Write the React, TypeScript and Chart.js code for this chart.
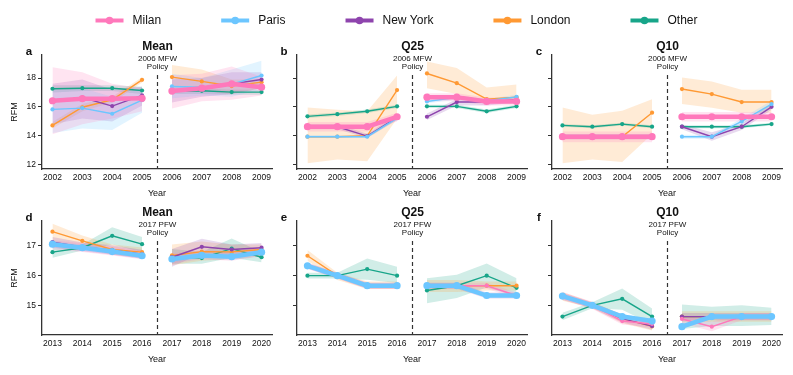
import React, { useEffect, useRef } from "react";
import { Chart, registerables } from "chart.js";

Chart.register(...registerables);

// ---------------- data ----------------
const CITIES = ["Milan", "Paris", "New York", "London", "Other"];
const YEARS_TOP = [2002, 2003, 2004, 2005, 2006, 2007, 2008, 2009];
const YEARS_BOTTOM = [2013, 2014, 2015, 2016, 2017, 2018, 2019, 2020];
const Y_TICKS_TOP = [12, 14, 16, 18];
const Y_TICKS_BOTTOM = [15, 16, 17];
const POLICY_TOP = ["2006 MFW", "Policy"];
const POLICY_BOTTOM = ["2017 PFW", "Policy"];

// Panel a — Mean (2002–2009)
const A_MILAN = [16.43, 16.57, 16.57, 16.6, 17.1, 17.3, 17.6, 17.37];
const A_MILAN_LO = [14.1, 14.8, 15.2, 15.7, 15.9, 16.4, 16.5, 16.8];
const A_MILAN_HI = [18.75, 18.4, 17.6, 17.3, 18.2, 18.3, 18.8, 18.1];
const A_PARIS = [15.83, 15.92, 15.53, 16.47, 17.42, 17.37, 17.58, 18.18];
const A_PARIS_LO = [14.2, 14.5, 14.4, 15.6, 16.6, 16.8, 16.7, 17.2];
const A_PARIS_HI = [17.3, 17.3, 16.7, 17.3, 18.3, 18.0, 18.6, 19.2];
const A_NY = [16.4, 16.65, 16.06, 16.8, 17.12, 17.3, 17.6, 17.9];
const A_NY_LO = [14.8, 15.2, 15.0, 16.1, 16.3, 16.7, 16.9, 17.3];
const A_NY_HI = [17.6, 17.9, 17.2, 17.4, 17.9, 18.0, 18.4, 18.4];
const A_LONDON = [14.72, 15.98, 16.5, 17.88, 18.07, 17.77, 17.45, 17.72];
const A_LONDON_LO = [14.5, 15.7, 16.3, 17.7, 17.2, 17.1, 16.9, 17.3];
const A_LONDON_HI = [14.95, 16.2, 16.7, 18.05, 18.9, 18.6, 17.9, 17.9];
const A_OTHER = [17.26, 17.3, 17.3, 17.14, 17.1, 17.12, 17.03, 17.03];
const A_OTHER_LO = [17.0, 17.1, 17.1, 16.9, 16.9, 16.9, 16.85, 16.85];
const A_OTHER_HI = [17.5, 17.5, 17.5, 17.4, 17.3, 17.3, 17.2, 17.2];

// Panel b — Q25 (2002–2009)
const B_MILAN = [14.63, 14.63, 14.63, 15.32, 16.68, 16.68, 16.38, 16.38];
const B_MILAN_LO = [14.3, 14.3, 14.3, 15.0, 16.4, 16.4, 16.1, 16.1];
const B_MILAN_HI = [14.95, 14.95, 14.95, 15.6, 16.95, 16.95, 16.65, 16.65];
const B_PARIS = [13.94, 13.94, 13.94, 15.23, 16.38, 16.66, 16.43, 16.7];
const B_PARIS_LO = [13.85, 13.85, 13.85, 15.1, 16.25, 16.5, 16.3, 16.55];
const B_PARIS_HI = [14.05, 14.05, 14.05, 15.35, 16.5, 16.8, 16.55, 16.85];
const B_NY = [14.63, 14.63, 13.98, 15.28, 15.32, 16.34, 16.34, 16.5];
const B_NY_LO = [14.45, 14.45, 13.85, 15.1, 15.1, 16.1, 16.1, 16.3];
const B_NY_HI = [14.8, 14.8, 14.15, 15.45, 15.55, 16.55, 16.55, 16.7];
const B_LONDON = [13.94, 13.94, 14.0, 17.17, 18.32, 17.65, 16.54, 16.68];
const B_LONDON_LO = [12.1, 12.35, 12.23, 15.2, 17.3, 16.9, 16.3, 16.4];
const B_LONDON_HI = [15.97, 15.8, 15.7, 18.18, 19.15, 18.7, 17.35, 17.55];
const B_OTHER = [15.35, 15.5, 15.7, 16.04, 16.04, 16.04, 15.7, 16.04];
const B_OTHER_LO = [15.23, 15.38, 15.58, 15.92, 15.92, 15.92, 15.58, 15.92];
const B_OTHER_HI = [15.47, 15.62, 15.82, 16.16, 16.16, 16.16, 15.82, 16.16];

// Panel c — Q10 (2002–2009)
const C_MILAN = [13.94, 13.94, 13.94, 13.94, 15.32, 15.32, 15.32, 15.32];
const C_MILAN_LO = [13.55, 13.55, 13.55, 13.55, 15.0, 15.0, 15.0, 15.0];
const C_MILAN_HI = [14.3, 14.3, 14.3, 14.3, 15.65, 15.65, 15.65, 15.65];
const C_PARIS = [13.94, 13.94, 13.94, 13.94, 13.94, 13.94, 15.0, 16.2];
const C_PARIS_LO = [13.8, 13.8, 13.8, 13.8, 13.8, 13.8, 14.8, 15.9];
const C_PARIS_HI = [14.08, 14.08, 14.08, 14.08, 14.08, 14.08, 15.2, 16.45];
const C_NY = [13.94, 13.94, 13.94, 13.94, 14.63, 13.94, 14.63, 16.01];
const C_NY_LO = [13.75, 13.75, 13.75, 13.75, 14.45, 13.65, 14.4, 15.8];
const C_NY_HI = [14.12, 14.12, 14.12, 14.12, 14.8, 14.25, 14.85, 16.2];
const C_LONDON = [13.94, 13.94, 13.94, 15.6, 17.24, 16.89, 16.34, 16.34];
const C_LONDON_LO = [12.1, 12.35, 12.18, 14.1, 16.2, 15.95, 15.6, 15.6];
const C_LONDON_HI = [15.97, 15.46, 15.74, 16.54, 18.04, 17.77, 17.2, 17.2];
const C_OTHER = [14.72, 14.63, 14.81, 14.63, 14.63, 14.63, 14.63, 14.81];
const C_OTHER_LO = [14.62, 14.53, 14.71, 14.53, 14.53, 14.53, 14.53, 14.71];
const C_OTHER_HI = [14.82, 14.73, 14.91, 14.73, 14.73, 14.73, 14.73, 14.91];

// Panel d — Mean (2013–2020)
const D_MILAN = [17.03, 16.95, 16.83, 16.7, 16.58, 16.7, 16.66, 16.8];
const D_MILAN_LO = [16.88, 16.8, 16.68, 16.55, 16.4, 16.55, 16.5, 16.65];
const D_MILAN_HI = [17.18, 17.1, 16.98, 16.85, 16.75, 16.85, 16.82, 16.95];
const D_PARIS = [17.06, 16.94, 16.81, 16.67, 16.56, 16.68, 16.64, 16.79];
const D_PARIS_LO = [16.94, 16.84, 16.71, 16.57, 16.44, 16.56, 16.52, 16.67];
const D_PARIS_HI = [17.18, 17.04, 16.91, 16.77, 16.68, 16.8, 16.76, 16.91];
const D_NY = [17.13, 16.97, 16.86, 16.72, 16.62, 16.97, 16.88, 16.94];
const D_NY_LO = [16.95, 16.82, 16.7, 16.57, 16.3, 16.75, 16.7, 16.8];
const D_NY_HI = [17.3, 17.12, 17.02, 16.87, 16.9, 17.24, 17.05, 17.1];
const D_LONDON = [17.48, 17.17, 16.88, 16.79, 16.68, 16.81, 16.8, 16.88];
const D_LONDON_LO = [17.05, 16.95, 16.7, 16.6, 16.35, 16.5, 16.55, 16.65];
const D_LONDON_HI = [17.75, 17.35, 17.05, 16.95, 17.05, 17.15, 17.05, 17.05];
const D_OTHER = [16.79, 16.94, 17.34, 17.06, 16.64, 16.59, 16.91, 16.62];
const D_OTHER_LO = [16.6, 16.85, 17.05, 16.8, 16.4, 16.4, 16.6, 16.45];
const D_OTHER_HI = [16.95, 17.05, 17.63, 17.3, 16.9, 16.8, 17.25, 16.8];

// Panel e — Q25 (2013–2020)
const E_MILAN = [16.33, 16.0, 15.66, 15.66, 15.66, 15.66, 15.66, 15.33];
const E_MILAN_LO = [16.23, 15.9, 15.56, 15.56, 15.56, 15.56, 15.56, 15.23];
const E_MILAN_HI = [16.43, 16.1, 15.76, 15.76, 15.76, 15.76, 15.76, 15.43];
const E_PARIS = [16.33, 16.0, 15.66, 15.66, 15.66, 15.66, 15.33, 15.33];
const E_PARIS_LO = [16.26, 15.93, 15.59, 15.59, 15.59, 15.59, 15.26, 15.26];
const E_PARIS_HI = [16.4, 16.07, 15.73, 15.73, 15.73, 15.73, 15.4, 15.4];
const E_NY = [16.33, 16.0, 15.66, 15.66, 15.66, 15.66, 15.33, 15.33];
const E_NY_LO = [16.23, 15.9, 15.56, 15.56, 15.56, 15.56, 15.23, 15.23];
const E_NY_HI = [16.43, 16.1, 15.76, 15.76, 15.76, 15.76, 15.43, 15.43];
const E_LONDON = [16.67, 16.0, 15.66, 15.66, 15.66, 15.66, 15.66, 15.66];
const E_LONDON_LO = [16.5, 15.85, 15.55, 15.55, 15.45, 15.45, 15.5, 15.5];
const E_LONDON_HI = [16.86, 16.1, 15.8, 15.8, 15.85, 15.85, 15.8, 15.8];
const E_OTHER = [16.0, 16.0, 16.22, 16.0, 15.5, 15.66, 16.0, 15.59];
const E_OTHER_LO = [15.9, 15.9, 15.86, 15.75, 15.07, 15.25, 15.6, 15.3];
const E_OTHER_HI = [16.1, 16.1, 16.58, 16.3, 15.91, 16.03, 16.41, 15.91];

// Panel f — Q10 (2013–2020)
const F_MILAN = [15.33, 15.0, 14.47, 14.37, 14.54, 14.28, 14.62, 14.62];
const F_MILAN_LO = [15.2, 14.88, 14.35, 14.25, 14.4, 14.13, 14.5, 14.5];
const F_MILAN_HI = [15.45, 15.12, 14.6, 14.5, 14.68, 14.45, 14.74, 14.74];
const F_PARIS = [15.31, 15.0, 14.62, 14.47, 14.28, 14.62, 14.62, 14.62];
const F_PARIS_LO = [15.22, 14.92, 14.54, 14.39, 14.2, 14.54, 14.54, 14.54];
const F_PARIS_HI = [15.4, 15.08, 14.7, 14.55, 14.36, 14.7, 14.7, 14.7];
const F_NY = [15.3, 15.0, 14.55, 14.3, 14.62, 14.62, 14.62, 14.62];
const F_NY_LO = [15.18, 14.9, 14.42, 14.18, 14.5, 14.5, 14.5, 14.5];
const F_NY_HI = [15.42, 15.1, 14.68, 14.42, 14.74, 14.74, 14.74, 14.74];
const F_LONDON = [15.33, 15.0, 14.55, 14.29, 14.62, 14.62, 14.62, 14.62];
const F_LONDON_LO = [15.15, 14.9, 14.4, 14.15, 14.45, 14.45, 14.45, 14.45];
const F_LONDON_HI = [15.45, 15.1, 14.7, 14.4, 14.8, 14.8, 14.8, 14.8];
const F_OTHER = [14.62, 15.0, 15.22, 14.62, 14.62, 14.62, 14.62, 14.62];
const F_OTHER_LO = [14.5, 14.9, 14.85, 14.35, 14.2, 14.3, 14.3, 14.34];
const F_OTHER_HI = [14.75, 15.1, 15.57, 14.89, 15.03, 14.95, 15.0, 14.92];

// ---------------- styles ----------------
const COLORS = ["#ff78bb", "#6cc6ff", "#8e44ad", "#ff9933", "#17a589"];
const BAND_ALPHA = 0.2;
const FONT = "'Liberation Sans', Arial, Helvetica, sans-serif";
const AXIS_COLOR = "#333333";
const TEXT_COLOR = "#111111";

type Series = { mean: number[]; lo: number[]; hi: number[] };
type PanelCfg = {
  letter: string;
  title: string;
  policy: string[];
  years: number[];
  yMin: number;
  yMax: number;
  yTicks: number[];
  col: number;
  row: number;
  thick: number;
  drawOrder: number[];
  series: Series[];
};

const COL_LEFT = [42, 297, 552];
const PLOT_W = 230;
const ROW_TOP = [55, 221];
const ROW_BOTTOM = [169, 335];
const Y_AXIS_W = 42;
const X_AXIS_H = 30;

const TOP_ORDER = [1, 2, 3, 4, 5];
const BOTTOM_ORDER = [2, 1, 3, 4, 5];

const PANELS: PanelCfg[] = [
  {
    letter: "a", title: "Mean", policy: POLICY_TOP, years: YEARS_TOP, yMin: 11.7, yMax: 19.6, yTicks: Y_TICKS_TOP,
    col: 0, row: 0, thick: 0, drawOrder: TOP_ORDER,
    series: [
      { mean: A_MILAN, lo: A_MILAN_LO, hi: A_MILAN_HI },
      { mean: A_PARIS, lo: A_PARIS_LO, hi: A_PARIS_HI },
      { mean: A_NY, lo: A_NY_LO, hi: A_NY_HI },
      { mean: A_LONDON, lo: A_LONDON_LO, hi: A_LONDON_HI },
      { mean: A_OTHER, lo: A_OTHER_LO, hi: A_OTHER_HI },
    ],
  },
  {
    letter: "b", title: "Q25", policy: POLICY_TOP, years: YEARS_TOP, yMin: 11.7, yMax: 19.6, yTicks: Y_TICKS_TOP,
    col: 1, row: 0, thick: 0, drawOrder: TOP_ORDER,
    series: [
      { mean: B_MILAN, lo: B_MILAN_LO, hi: B_MILAN_HI },
      { mean: B_PARIS, lo: B_PARIS_LO, hi: B_PARIS_HI },
      { mean: B_NY, lo: B_NY_LO, hi: B_NY_HI },
      { mean: B_LONDON, lo: B_LONDON_LO, hi: B_LONDON_HI },
      { mean: B_OTHER, lo: B_OTHER_LO, hi: B_OTHER_HI },
    ],
  },
  {
    letter: "c", title: "Q10", policy: POLICY_TOP, years: YEARS_TOP, yMin: 11.7, yMax: 19.6, yTicks: Y_TICKS_TOP,
    col: 2, row: 0, thick: 0, drawOrder: TOP_ORDER,
    series: [
      { mean: C_MILAN, lo: C_MILAN_LO, hi: C_MILAN_HI },
      { mean: C_PARIS, lo: C_PARIS_LO, hi: C_PARIS_HI },
      { mean: C_NY, lo: C_NY_LO, hi: C_NY_HI },
      { mean: C_LONDON, lo: C_LONDON_LO, hi: C_LONDON_HI },
      { mean: C_OTHER, lo: C_OTHER_LO, hi: C_OTHER_HI },
    ],
  },
  {
    letter: "d", title: "Mean", policy: POLICY_BOTTOM, years: YEARS_BOTTOM, yMin: 14.0, yMax: 17.84, yTicks: Y_TICKS_BOTTOM,
    col: 0, row: 1, thick: 1, drawOrder: BOTTOM_ORDER,
    series: [
      { mean: D_MILAN, lo: D_MILAN_LO, hi: D_MILAN_HI },
      { mean: D_PARIS, lo: D_PARIS_LO, hi: D_PARIS_HI },
      { mean: D_NY, lo: D_NY_LO, hi: D_NY_HI },
      { mean: D_LONDON, lo: D_LONDON_LO, hi: D_LONDON_HI },
      { mean: D_OTHER, lo: D_OTHER_LO, hi: D_OTHER_HI },
    ],
  },
  {
    letter: "e", title: "Q25", policy: POLICY_BOTTOM, years: YEARS_BOTTOM, yMin: 14.0, yMax: 17.84, yTicks: Y_TICKS_BOTTOM,
    col: 1, row: 1, thick: 1, drawOrder: BOTTOM_ORDER,
    series: [
      { mean: E_MILAN, lo: E_MILAN_LO, hi: E_MILAN_HI },
      { mean: E_PARIS, lo: E_PARIS_LO, hi: E_PARIS_HI },
      { mean: E_NY, lo: E_NY_LO, hi: E_NY_HI },
      { mean: E_LONDON, lo: E_LONDON_LO, hi: E_LONDON_HI },
      { mean: E_OTHER, lo: E_OTHER_LO, hi: E_OTHER_HI },
    ],
  },
  {
    letter: "f", title: "Q10", policy: POLICY_BOTTOM, years: YEARS_BOTTOM, yMin: 14.0, yMax: 17.84, yTicks: Y_TICKS_BOTTOM,
    col: 2, row: 1, thick: 1, drawOrder: BOTTOM_ORDER,
    series: [
      { mean: F_MILAN, lo: F_MILAN_LO, hi: F_MILAN_HI },
      { mean: F_PARIS, lo: F_PARIS_LO, hi: F_PARIS_HI },
      { mean: F_NY, lo: F_NY_LO, hi: F_NY_HI },
      { mean: F_LONDON, lo: F_LONDON_LO, hi: F_LONDON_HI },
      { mean: F_OTHER, lo: F_OTHER_LO, hi: F_OTHER_HI },
    ],
  },
];

function rgba(hex: string, a: number) {
  const n = parseInt(hex.slice(1), 16);
  return `rgba(${(n >> 16) & 255},${(n >> 8) & 255},${n & 255},${a})`;
}

function buildDatasets(p: PanelCfg) {
  const ds: any[] = [];
  const n = p.years.length;
  const half = n / 2;
  p.series.forEach((s, ci) => {
    const color = COLORS[ci];
    const thick = ci === p.thick;
    [[0, half], [half, n]].forEach(([a, b]) => {
      const pts = (arr: number[]) => arr.slice(a, b).map((v, k) => ({ x: p.years[a + k], y: v }));
      ds.push({
        data: pts(s.hi), borderWidth: 0, pointRadius: 0, fill: false, order: 100,
        borderColor: "rgba(0,0,0,0)", backgroundColor: "rgba(0,0,0,0)", tension: 0,
      });
      ds.push({
        data: pts(s.lo), borderWidth: 0, pointRadius: 0, fill: "-1", order: 100,
        borderColor: "rgba(0,0,0,0)", backgroundColor: rgba(color, BAND_ALPHA), tension: 0,
      });
      ds.push({
        data: pts(s.mean), borderColor: color, backgroundColor: color,
        pointBackgroundColor: color, pointBorderColor: color,
        borderWidth: thick ? 4.5 : 1.4, pointRadius: thick ? 3.6 : 2.1, pointBorderWidth: 0,
        fill: false, order: p.drawOrder[ci], tension: 0,
      });
    });
  });
  return ds;
}

function drawLegend(ctx: CanvasRenderingContext2D) {
  ctx.save();
  ctx.font = `12px ${FONT}`;
  const lineW = 28, textGap = 9, itemGap = 60;
  const widths = CITIES.map((c) => lineW + textGap + ctx.measureText(c).width);
  const total = widths.reduce((s, w) => s + w, 0) + itemGap * (CITIES.length - 1);
  let x = 396.5 - total / 2;
  const y = 20.5;
  CITIES.forEach((c, i) => {
    ctx.strokeStyle = COLORS[i];
    ctx.lineWidth = 4;
    ctx.beginPath();
    ctx.moveTo(x, y);
    ctx.lineTo(x + lineW, y);
    ctx.stroke();
    ctx.fillStyle = COLORS[i];
    ctx.beginPath();
    ctx.arc(x + lineW / 2, y, 3.8, 0, Math.PI * 2);
    ctx.fill();
    ctx.fillStyle = TEXT_COLOR;
    ctx.textAlign = "left";
    ctx.textBaseline = "middle";
    ctx.fillText(c, x + lineW + textGap, y + 0.5);
    x += widths[i] + itemGap;
  });
  ctx.restore();
}

function PanelChart({ p, legend }: { p: PanelCfg; legend: boolean }) {
  const ref = useRef<HTMLCanvasElement | null>(null);
  useEffect(() => {
    if (!ref.current) return;
    const left = COL_LEFT[p.col];
    const right = left + PLOT_W;
    const top = ROW_TOP[p.row];
    const bottom = ROW_BOTTOM[p.row];
    const policyX = (p.years[3] + p.years[4]) / 2;

    const decor = {
      id: "decor" + p.letter,
      afterDraw(chart: any) {
        const { ctx, chartArea, scales } = chart;
        const px = Math.round(scales.x.getPixelForValue(policyX)) + 0.5;
        ctx.save();
        // dashed policy line
        ctx.strokeStyle = AXIS_COLOR;
        ctx.lineWidth = 1.2;
        ctx.setLineDash([4, 3]);
        ctx.beginPath();
        ctx.moveTo(px, chartArea.top + 20);
        ctx.lineTo(px, chartArea.bottom);
        ctx.stroke();
        ctx.setLineDash([]);
        // title + policy note
        ctx.fillStyle = TEXT_COLOR;
        ctx.textAlign = "center";
        ctx.textBaseline = "middle";
        ctx.font = `bold 12px ${FONT}`;
        ctx.fillText(p.title, px, chartArea.top - 8.5);
        ctx.font = `8px ${FONT}`;
        ctx.fillText(p.policy[0], px, chartArea.top + 3.5);
        ctx.fillText(p.policy[1], px, chartArea.top + 11.8);
        // panel letter
        ctx.font = `bold 11.5px ${FONT}`;
        ctx.textAlign = "center";
        ctx.fillText(p.letter, chartArea.left - (p.col === 0 ? 13 : 13), chartArea.top - 3);
        ctx.restore();
        if (legend) drawLegend(ctx);
      },
    };

    const chart = new Chart(ref.current, {
      type: "line",
      data: { datasets: buildDatasets(p) },
      options: {
        animation: false,
        responsive: false,
        events: [],
        layout: {
          padding: {
            left: left - Y_AXIS_W,
            right: 793 - right,
            top: top,
            bottom: 375 - bottom - X_AXIS_H,
          },
        },
        plugins: {
          legend: { display: false },
          tooltip: { enabled: false },
          title: { display: false },
        },
        scales: {
          x: {
            type: "linear",
            min: p.years[0] - 0.35,
            max: p.years[p.years.length - 1] + 0.35,
            afterBuildTicks: (s: any) => {
              s.ticks = p.years.map((v) => ({ value: v }));
            },
            afterFit: (s: any) => {
              s.height = X_AXIS_H;
            },
            ticks: {
              autoSkip: false,
              maxRotation: 0,
              padding: 4,
              color: TEXT_COLOR,
              font: { family: FONT, size: 8.5 },
              callback: (v: any) => String(v),
            },
            grid: { display: false, drawTicks: false },
            border: { display: true, color: AXIS_COLOR, width: 1.3 },
            title: {
              display: true,
              text: "Year",
              color: TEXT_COLOR,
              font: { family: FONT, size: 9 },
              padding: { top: 0, bottom: 0 },
            },
          },
          y: {
            type: "linear",
            min: p.yMin,
            max: p.yMax,
            afterBuildTicks: (s: any) => {
              s.ticks = p.yTicks.map((v) => ({ value: v }));
            },
            afterFit: (s: any) => {
              s.width = Y_AXIS_W;
            },
            ticks: {
              padding: 2,
              color: TEXT_COLOR,
              font: { family: FONT, size: 8.5 },
              callback: (v: any) => (p.col === 0 ? String(v) : ""),
            },
            grid: {
              display: true,
              drawOnChartArea: false,
              drawTicks: true,
              tickLength: 4,
              tickWidth: 1,
              color: AXIS_COLOR,
            },
            border: { display: true, color: AXIS_COLOR, width: 1.3 },
            title: {
              display: p.col === 0,
              text: "RFM",
              color: TEXT_COLOR,
              font: { family: FONT, size: 9 },
              padding: { top: 9, bottom: 0 },
            },
          },
        },
      } as any,
      plugins: [decor],
    });
    return () => chart.destroy();
  }, [p, legend]);
  return (
    <canvas
      ref={ref}
      width={793}
      height={375}
      style={{ position: "absolute", left: 0, top: 0, width: 793, height: 375, pointerEvents: "none" }}
    />
  );
}

export default function App() {
  return (
    <div style={{ position: "fixed", left: 0, top: 0, width: 793, height: 375, background: "#ffffff", overflow: "hidden" }}>
      {PANELS.map((p, i) => (
        <PanelChart key={p.letter} p={p} legend={i === 0} />
      ))}
    </div>
  );
}
